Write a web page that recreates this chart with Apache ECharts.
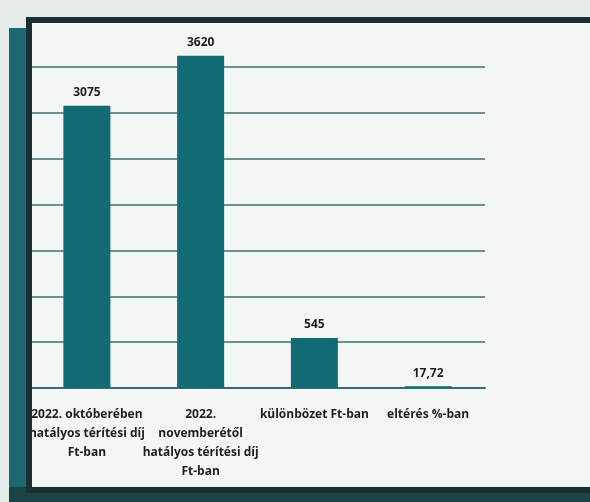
<!DOCTYPE html>
<html>
<head>
<meta charset="utf-8">
<script src="https://cdn.jsdelivr.net/npm/echarts@6/dist/echarts.min.js"></script>
<style>
html,body{margin:0;padding:0;background:#e5ecea;}
#c{width:590px;height:502px;}
</style>
</head>
<body>
<div id="c"></div>
<script>
const categories = [
  "2022. októberében\nhatályos térítési díj\nFt-ban",
  "2022.\nnovemberétől\nhatályos térítési díj\nFt-ban",
  "különbözet Ft-ban",
  "eltérés %-ban"
];
const values = [3075, 3620, 545, 17.72];
const yTicks = { min: 0, max: 4000, interval: 500 };

const chart = echarts.init(document.getElementById('c'));
chart.setOption({
  backgroundColor: '#e5ecea',
  animation: false,
  grid: { left: 30, right: 105, top: 21, bottom: 114 },
  xAxis: {
    type: 'category',
    data: categories,
    axisTick: { show: false },
    axisLine: { show: true, lineStyle: { color: '#3a6a71', width: 2 } },
    axisLabel: {
      interval: 0,
      margin: 17,
      fontFamily: 'Open Sans',
      fontWeight: 'bold',
      fontSize: 12,
      lineHeight: 19,
      color: '#1b1f1f'
    }
  },
  yAxis: {
    type: 'value',
    min: yTicks.min, max: yTicks.max, interval: yTicks.interval,
    axisLabel: { show: false },
    axisLine: { show: false },
    axisTick: { show: false },
    splitLine: { show: true, lineStyle: { color: '#3f6d73', width: 1.5 } }
  },
  series: [{
    type: 'bar',
    data: values,
    barWidth: 47,
    itemStyle: { color: '#126b74' },
    label: {
      show: true,
      position: 'top',
      distance: 7,
      fontFamily: 'Open Sans',
      fontWeight: 'bold',
      fontSize: 12,
      color: '#1b1f1f',
      formatter: p => String(p.value).replace('.', ',')
    }
  }],
  graphic: [
    { type: 'rect', z: -100, shape: { x: 31, y: 19, width: 560, height: 468 }, style: { fill: '#f2f6f4' } },
    { type: 'rect', z: 100, shape: { x: 9, y: 28, width: 17, height: 474 }, style: { fill: '#1d6870' } },
    { type: 'rect', z: 100, shape: { x: 26, y: 17, width: 564, height: 6 }, style: { fill: '#1c2f30' } },
    { type: 'rect', z: 100, shape: { x: 26, y: 17, width: 6, height: 476 }, style: { fill: '#1c2f30' } },
    { type: 'rect', z: 100, shape: { x: 9, y: 487, width: 581, height: 15 }, style: { fill: '#1a4347' } },
    { type: 'rect', z: 101, shape: { x: 26, y: 487, width: 564, height: 6 }, style: { fill: '#1c2f30' } }
  ]
});
</script>
</body>
</html>
